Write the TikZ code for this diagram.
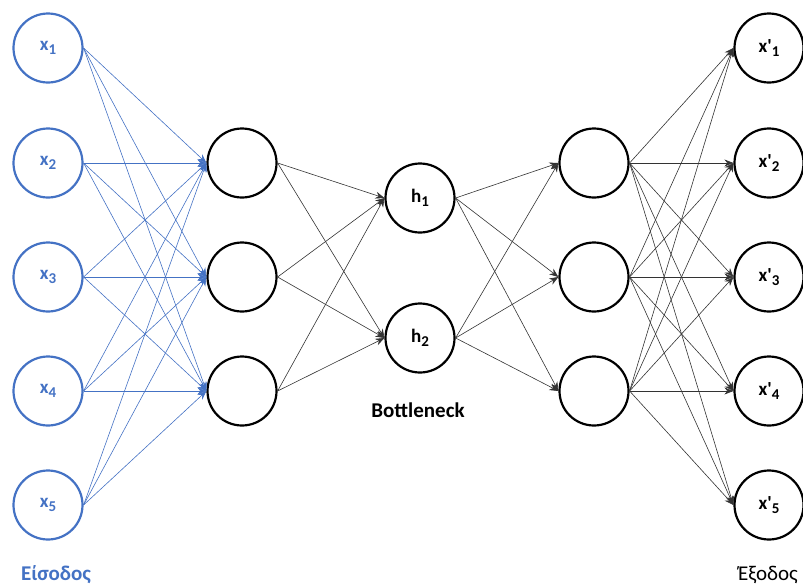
\documentclass[tikz,border=0pt]{standalone}
\usepackage{fontspec}
\setmainfont{Carlito}
\usetikzlibrary{arrows.meta}
\definecolor{obl}{HTML}{4472C4}
\newcommand{\nsub}[1]{\raisebox{-0.4ex}{\fontsize{15}{15}\selectfont #1}}
\tikzset{
  neuron/.style={circle, draw, line width=2.2pt, minimum size=69pt, inner sep=0pt, font=\fontsize{19}{19}\selectfont\bfseries},
  inneuron/.style={neuron, draw=obl, text=obl},
  edge/.style={line width=0.6pt, draw=black!80, -{Stealth[length=9pt,width=7pt]}},
  inedge/.style={edge, draw=obl, -{Stealth[length=9pt,width=7pt]}},
  lbl/.style={font=\fontsize{21}{21}\selectfont\bfseries},
  lblr/.style={font=\fontsize{21}{21}\selectfont}
}
\begin{document}
\begin{tikzpicture}[x=1pt,y=-1pt]
\useasboundingbox (0,0) rectangle (803,587);
% input
\foreach \i/\y in {1/48,2/163,3/277,4/391,5/505}
  \node[inneuron] (i\i) at (48,\y) {x\nsub{\i}};
% hidden 1
\foreach \i/\y in {1/163,2/277,3/391}
  \node[neuron] (a\i) at (242,\y) {};
% bottleneck
\node[neuron] (h1) at (420,198) {h\nsub{1}};
\node[neuron] (h2) at (420,338) {h\nsub{2}};
% hidden 3
\foreach \i/\y in {1/163,2/277,3/391}
  \node[neuron] (b\i) at (594,\y) {};
% output
\foreach \i/\y in {1/48,2/163,3/277,4/391,5/505}
  \node[neuron] (o\i) at (769,\y) {x\textquotesingle\nsub{\i}};
% edges
\foreach \i in {1,...,5}
  \foreach \j in {1,2,3}
    \draw[inedge] (i\i.east) -- (a\j.west);
\foreach \i in {1,2,3}
  \foreach \j in {1,2}
    \draw[edge] (a\i.east) -- (h\j.west);
\foreach \i in {1,2}
  \foreach \j in {1,2,3}
    \draw[edge] (h\i.east) -- (b\j.west);
\foreach \i in {1,2,3}
  \foreach \j in {1,...,5}
    \draw[edge] (b\i.east) -- (o\j.west);
% labels
\node[lbl] (bn) at (418,410) {Bottleneck};
\node[lbl, text=obl, anchor=base] (inl) at (56,580) {Είσοδος};
\node[lblr, anchor=base] (outl) at (768,580) {Έξοδος};
\end{tikzpicture}
\end{document}
